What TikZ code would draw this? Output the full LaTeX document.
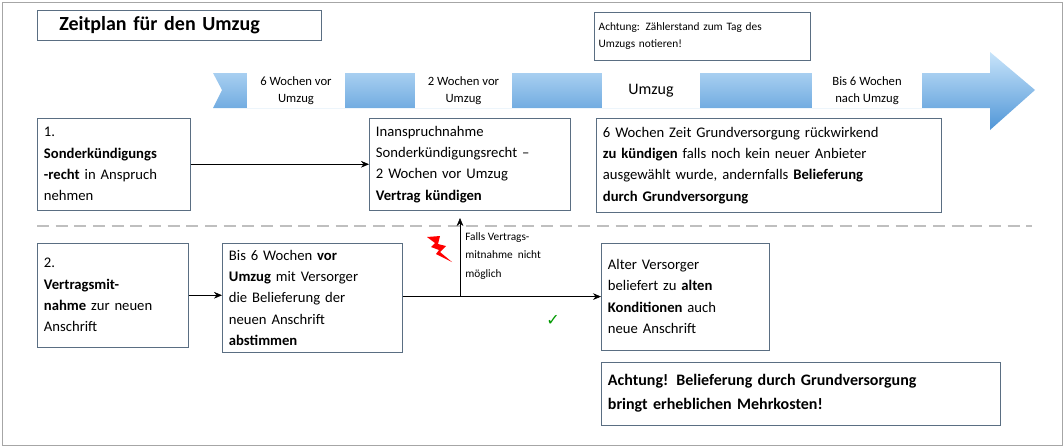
\documentclass[tikz,border=0pt]{standalone}
\usepackage{fontspec}
\setmainfont{Carlito}
\newfontfamily\symfont{DejaVu Sans}
\usetikzlibrary{arrows.meta}
\definecolor{boxline}{RGB}{90,110,130}
\definecolor{arrowtop}{RGB}{200,228,250}
\definecolor{arrowbot}{RGB}{80,150,215}
\tikzset{
  infobox/.style={draw=boxline, fill=white, anchor=north west, align=left, inner sep=5pt, font=\fontsize{11}{16}\selectfont},
  tagbox/.style={fill=white, minimum height=26.25pt, align=center, font=\fontsize{9.5}{13}\selectfont, inner sep=1pt},
  flow/.style={-{Stealth[length=6pt,width=5pt]}, thick}
}
\begin{document}
\begin{tikzpicture}[x=0.75pt, y=-0.75pt]
  \useasboundingbox (0,0) rectangle (1064,447);
  \draw[gray!70] (2,2) rectangle (1062,445);

  % Titel
  \node[draw=boxline, text width=200pt, inner xsep=6.5pt, minimum height=22.5pt, anchor=north west, align=left, font=\fontsize{15}{18}\bfseries\selectfont] (title) at (37,10) {~~Zeitplan für den Umzug};
  \node[draw=boxline, anchor=north west, text width=155pt, minimum height=36pt, align=left, font=\fontsize{8.5}{13}\selectfont] (note) at (594,12) {Achtung: Zählerstand zum Tag des\\Umzugs notieren!};

  % Zeitstrahl
  \shade[top color=arrowtop, bottom color=arrowbot, draw=none]
    (213,73) -- (990,73) -- (990,52) -- (1035,90) -- (990,130) -- (990,108) -- (213,108) -- (222,90) -- cycle;
  \node[tagbox, minimum width=73.5pt] (t1) at (296,90.5) {6 Wochen vor\\Umzug};
  \node[tagbox, minimum width=72.75pt] (t2) at (463.5,90.5) {2 Wochen vor\\Umzug};
  \node[tagbox, minimum width=73.5pt, font=\fontsize{12}{14}\selectfont] (t3) at (651,90.5) {Umzug};
  \node[tagbox, minimum width=82.5pt] (t4) at (867,90.5) {Bis 6 Wochen\\nach Umzug};

  % Sonderkuendigung
  \node[infobox, text width=104.75pt, minimum height=69pt] (kuend) at (37,118)
    {1.\\\textbf{Sonderkündigungs}\\\textbf{-recht} in Anspruch\\nehmen};
  \node[infobox, text width=140.75pt, minimum height=69pt] (sonder) at (369,118)
    {Inanspruchnahme\\Sonderkündigungsrecht --\\2 Wochen vor Umzug\\\textbf{Vertrag kündigen}};
  \node[infobox, text width=248.75pt, minimum height=70.5pt] (grund) at (596,118)
    {6 Wochen Zeit Grundversorgung rückwirkend\\\textbf{zu kündigen} falls noch kein neuer Anbieter\\ausgewählt wurde, andernfalls \textbf{Belieferung}\\\textbf{durch Grundversorgung}};
  \draw[flow, thin] (kuend.east) -- (kuend.east -| sonder.west);

  \draw[gray!50, line width=1.5pt, dash pattern=on 9pt off 5pt] (37,226) -- (1032,226);

  % Vertragsmitnahme
  \node[infobox, text width=103.25pt, minimum height=78pt] (mit) at (37,243)
    {2.\\\textbf{Vertragsmit-}\\\textbf{nahme} zur neuen\\Anschrift};
  \node[infobox, text width=125pt, minimum height=78pt] (abst) at (222,243)
    {Bis 6 Wochen \textbf{vor}\\\textbf{Umzug} mit Versorger\\die Belieferung der\\neuen Anschrift\\\textbf{abstimmen}};
  \node[infobox, text width=116pt, minimum height=80pt] (alt) at (601,243)
    {Alter Versorger\\beliefert zu \textbf{alten}\\\textbf{Konditionen} auch\\neue Anschrift};
  \node[infobox, text width=289.25pt, minimum height=47pt, font=\fontsize{12}{18}\bfseries\selectfont] (warn) at (601,362)
    {Achtung! Belieferung durch Grundversorgung\\bringt erheblichen Mehrkosten!};
  \draw[flow, thin] (mit.east) -- (mit.east -| abst.west);
  \draw[flow, thin] (abst.east |- alt.west) -- (alt.west);
  \coordinate (split) at (460,296);
  \coordinate (up) at (460,218);
  \draw[flow, thin] (split) -- (up);
  \node[anchor=north west, align=left, inner sep=0pt, font=\fontsize{8.5}{14}\selectfont] (falls) at (465,232)
    {Falls Vertrags-\\mitnahme~ nicht\\möglich};
  \fill[red] (427,237) -- (440,236) -- (438,244) -- (446,246) -- (440,252) -- (452,262) -- (436,254) -- (439,250) -- (431,247) -- (435,243) -- cycle;
  \node[text=green!60!black, font=\symfont\fontsize{12}{12}\selectfont] (ok) at (553,320) {✓};
\end{tikzpicture}
\end{document}
